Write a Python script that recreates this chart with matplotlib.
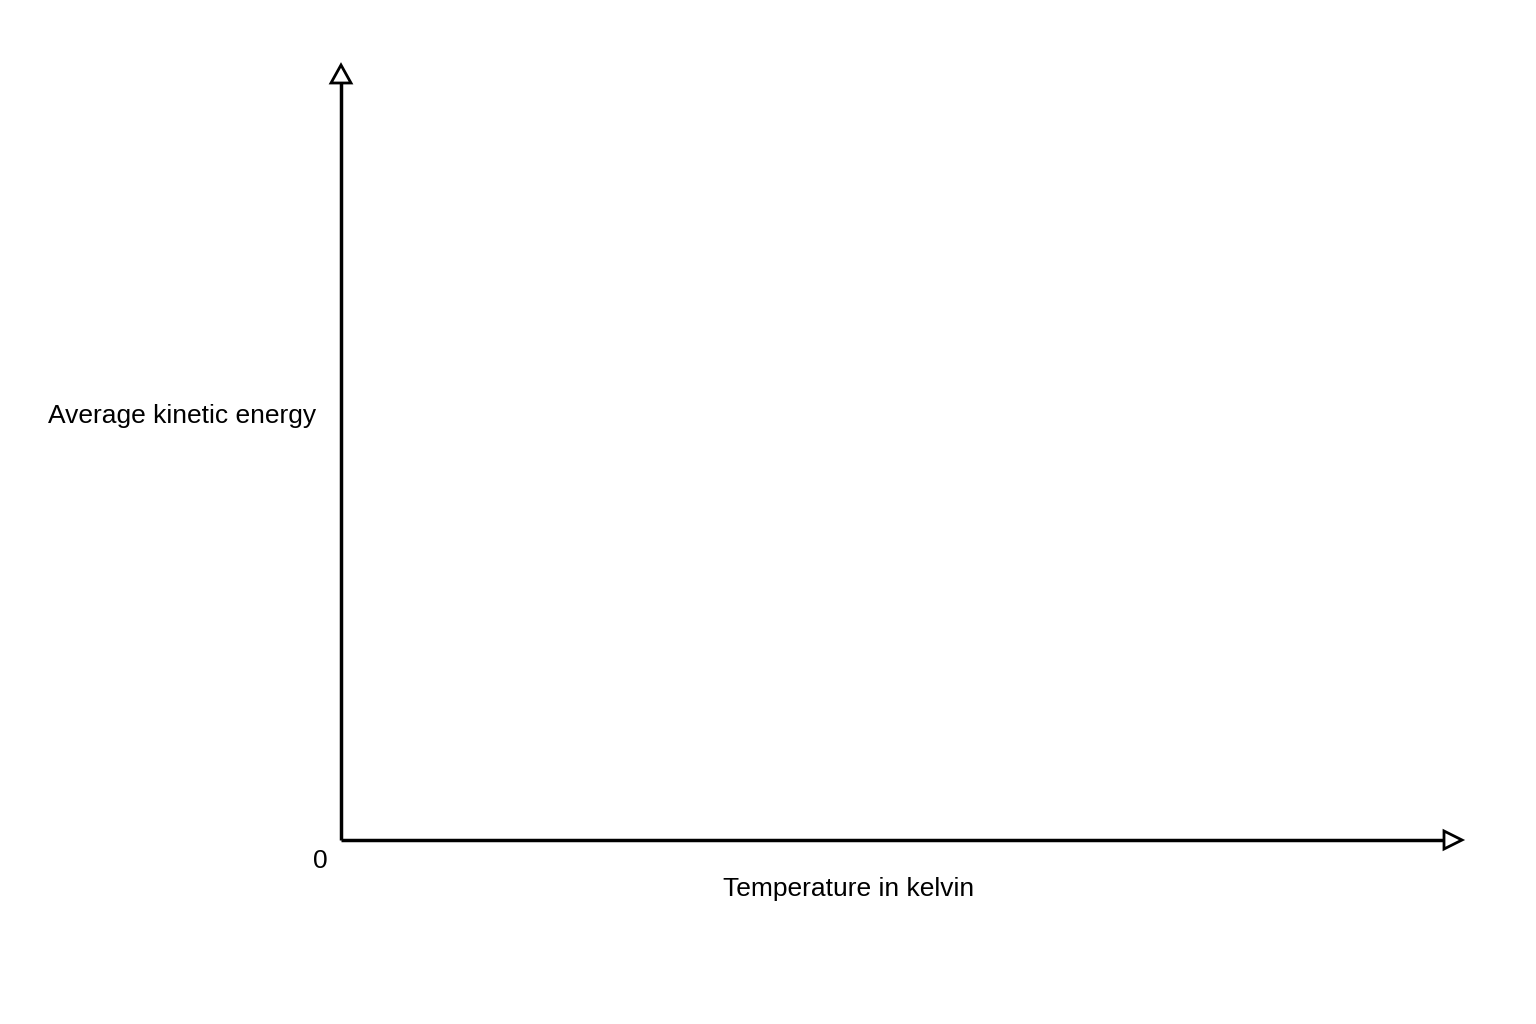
import matplotlib
matplotlib.use("Agg")
import matplotlib.pyplot as plt
from matplotlib.patches import Polygon

x_label = "Temperature in kelvin"
y_label = "Average kinetic energy"
origin_label = "0"

fig = plt.figure(figsize=(15.36, 10.24), dpi=100)
ax = fig.add_axes([0, 0, 1, 1])
ax.set_xlim(0, 1536)
ax.set_ylim(1024, 0)
ax.axis("off")

ox, oy = 341, 840
xt, yt = 1462, 65
lw = 2.5
ax.plot([ox, xt - 18], [oy, oy], color="black", lw=lw, solid_capstyle="butt")
ax.plot([ox, ox], [oy, yt + 18], color="black", lw=lw, solid_capstyle="butt")
ax.add_patch(Polygon([[xt, oy], [xt - 18, oy - 9], [xt - 18, oy + 9]], closed=True,
                     facecolor="white", edgecolor="black", lw=2))
ax.add_patch(Polygon([[ox, yt], [ox - 10, yt + 18], [ox + 10, yt + 18]], closed=True,
                     facecolor="white", edgecolor="black", lw=2))

font = dict(family=["Liberation Sans", "DejaVu Sans"], fontsize=19, color="black")
ax.text(316, 416, y_label, ha="right", va="center", **font)
ax.text(320, 861, origin_label, ha="center", va="center", **font)
ax.text(849, 889, x_label, ha="center", va="center", **font)

fig.savefig("out.png", dpi=100, facecolor="white")
